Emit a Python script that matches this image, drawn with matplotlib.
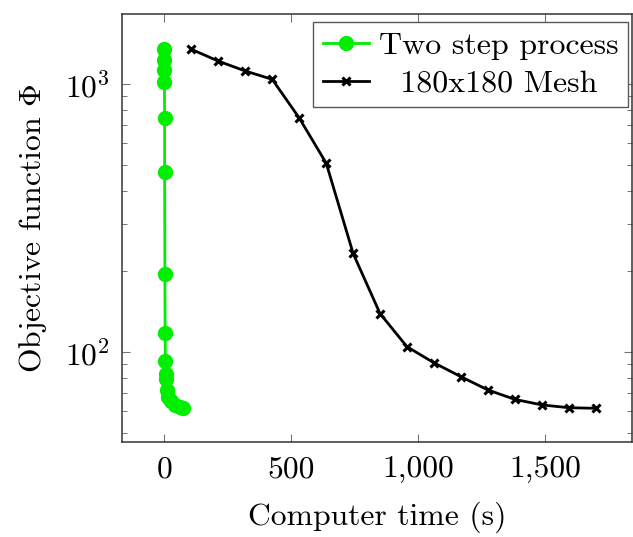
import numpy as np
import matplotlib
matplotlib.use("Agg")
import matplotlib.pyplot as plt
from matplotlib.ticker import FuncFormatter, LogLocator, NullFormatter

plt.rcParams['font.family'] = 'cmr10'
plt.rcParams['mathtext.fontset'] = 'cm'
plt.rcParams['axes.formatter.use_mathtext'] = True

# two step process (green)
two_step_time = [0, 0, 0, 0, 1, 1, 2, 3, 4, 5, 6, 10, 15, 25, 40, 60, 75]
two_step_phi = [1350, 1230, 1130, 1020, 745, 470, 195, 118, 92.5, 83, 79, 72, 68, 65.3, 63.5, 62.2, 62]

# 180x180 mesh (black)
mesh_time = [106, 212, 319, 425, 531, 638, 744, 850, 956, 1062, 1169, 1275, 1381, 1488, 1594, 1700]
mesh_phi = [1348, 1218, 1118, 1041, 748, 506, 233, 139, 104.6, 91.1, 80.8, 72.1, 66.5, 63.4, 61.9, 61.6]

labels = ["Two step process", "  180x180 Mesh"]

fig = plt.figure(figsize=(6.33, 5.37), dpi=100)
ax = fig.add_axes([122 / 633, 1 - 442 / 537, 510 / 633, 428 / 537])

ax.plot(two_step_time, two_step_phi, color="#00ee00", lw=2.0, marker="o",
        markersize=10, label=labels[0], zorder=3)
ax.plot(mesh_time, mesh_phi, color="black", lw=2.0, marker="x",
        markersize=5.5, markeredgewidth=2.2, label=labels[1], zorder=3)

ax.set_yscale("log")
ax.set_xlim(-167, 1843)
ax.set_ylim(46.1, 1825)
ax.set_xticks([0, 500, 1000, 1500])
ax.xaxis.set_major_formatter(FuncFormatter(lambda v, p: "{:,}".format(int(v))))
ax.yaxis.set_major_locator(LogLocator(base=10, numticks=10))
ax.yaxis.set_minor_locator(LogLocator(base=10, subs=np.arange(2, 10), numticks=10))
ax.yaxis.set_minor_formatter(NullFormatter())

ax.tick_params(which="both", direction="in", top=True, right=True,
               color="0.45", labelsize=22.7)
ax.tick_params(axis="x", pad=10)
ax.tick_params(axis="y", pad=9)
ax.tick_params(which="major", length=6, width=0.8)
ax.tick_params(which="minor", length=3.5, width=0.7)
for s in ax.spines.values():
    s.set_color("0.2")
    s.set_linewidth(1.1)

ax.set_xlabel("Computer time (s)", fontsize=22.8, labelpad=13)
ax.set_ylabel(r"Objective function $\Phi$", fontsize=22.8, labelpad=11)

leg = ax.legend(loc="upper right", bbox_to_anchor=(628 / 633, 1 - 22 / 537),
                bbox_transform=fig.transFigure, borderaxespad=0, fontsize=23,
                fancybox=False, framealpha=1, edgecolor="0.35",
                handlelength=1.45, handletextpad=0.3, borderpad=0.3,
                labelspacing=0.3)
leg.get_frame().set_linewidth(1.0)

fig.savefig("out.png", dpi=100)
